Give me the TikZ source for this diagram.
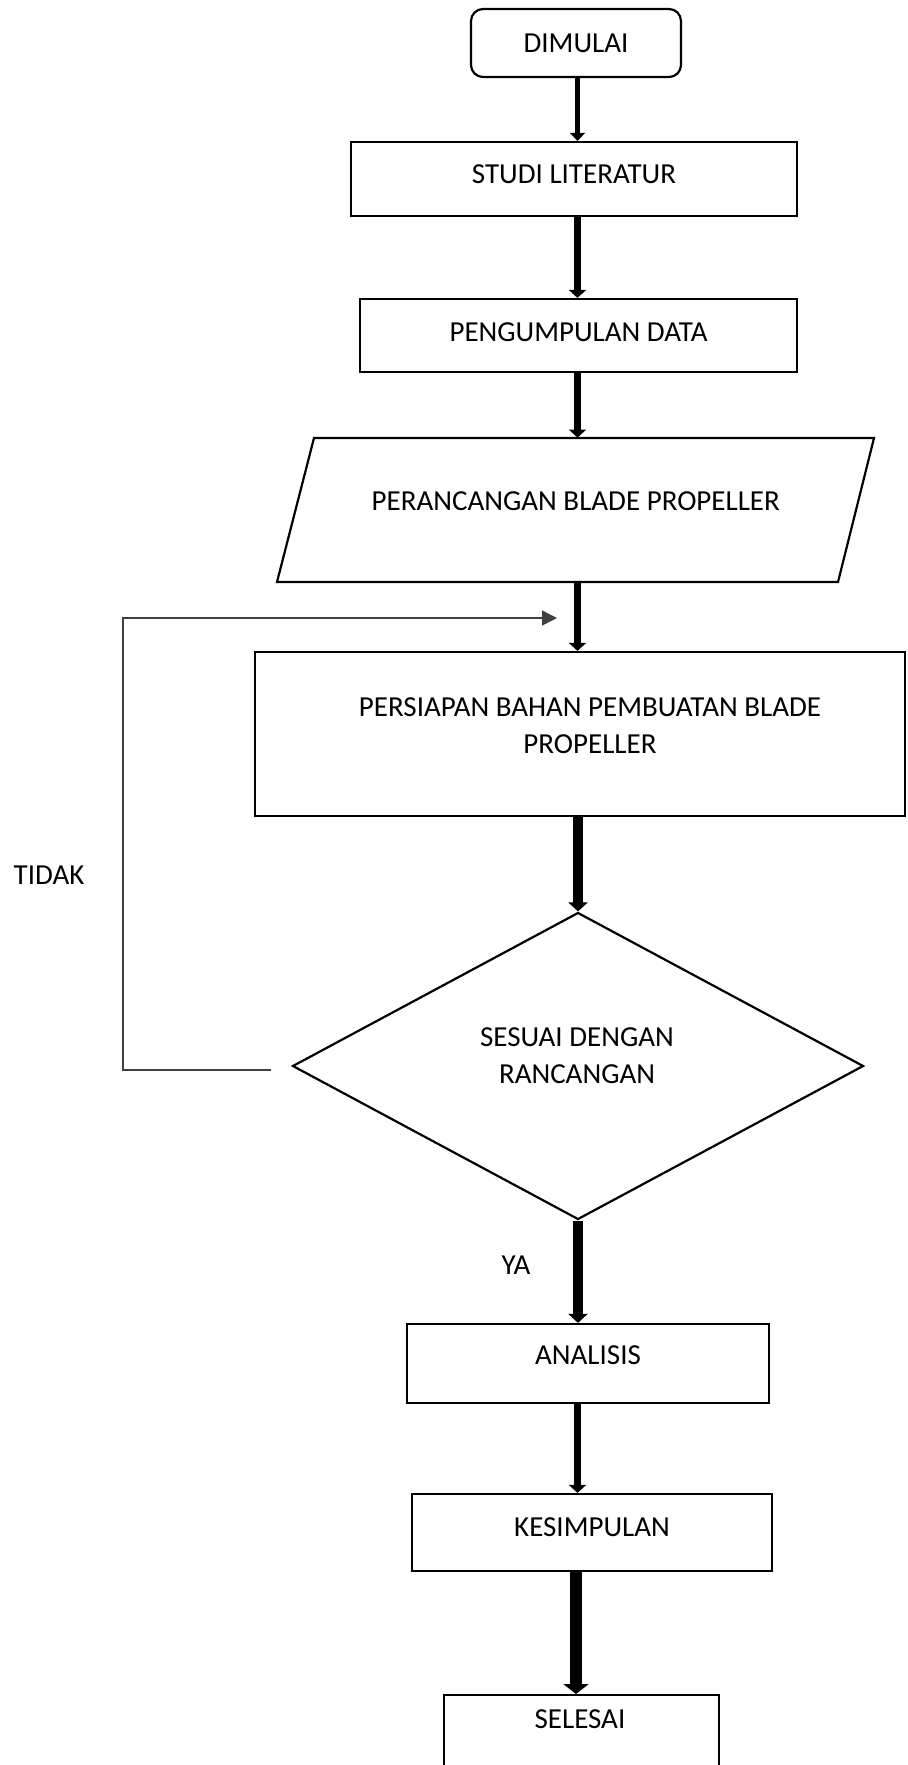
\documentclass[tikz,border=0pt]{standalone}
\usepackage{fontspec}
\setmainfont{Carlito}
\usetikzlibrary{shapes.geometric,arrows.meta}
\begin{document}
\begin{tikzpicture}[x=0.5pt,y=-0.5pt,
  txt/.style={font=\fontsize{14.5pt}{18.5pt}\selectfont,align=center,inner sep=0pt},
  box/.style={txt,draw,line width=1.1pt},
  flowthin/.style={line width=2.5pt,-{Triangle[width=7.5pt,length=4pt]}},
  flow/.style={line width=3.75pt,-{Triangle[width=8.5pt,length=4pt]}},
  flowthick/.style={line width=4.75pt,-{Triangle[width=9.5pt,length=4.5pt]}},
  flowbig/.style={line width=6pt,-{Triangle[width=12.5pt,length=5pt]}},
  fb/.style={line width=0.7pt,draw=black!75,-{Triangle[width=7.5pt,length=7.5pt]}}
]
\useasboundingbox (0,0) rectangle (907,1765);
\clip (0,0) rectangle (907,1765);

\node[box,rounded corners=6pt,minimum width=105pt,minimum height=34pt] (start) at (576,43) {DIMULAI};
\node[box,minimum width=223pt,minimum height=37pt,text depth=4.5pt] (studi) at (574,179) {STUDI LITERATUR};
\node[box,minimum width=218.5pt,minimum height=36.5pt,text depth=3.4pt] (peng) at (578.5,335.5) {PENGUMPULAN DATA};
\node[txt,minimum width=280pt,minimum height=72pt,text depth=9pt] (par) at (575.75,510) {PERANCANGAN BLADE PROPELLER};
\draw[line width=1.1pt,line join=miter] (314,438) -- (874,438) -- (838,582) -- (277,582) -- cycle;
\node[box,minimum width=325pt,minimum height=82pt,text depth=8pt] (pers) at (580,734) {\hspace*{10pt}PERSIAPAN BAHAN PEMBUATAN BLADE\\\hspace*{10pt}PROPELLER};
\node[draw,diamond,line width=1.1pt,minimum width=285.5pt,minimum height=153.5pt,inner sep=0pt] (dia) at (578,1066) {};
\node[txt] (diat) at (577,1055.5) {SESUAI DENGAN\\RANCANGAN};
\node[box,minimum width=181pt,minimum height=39.5pt,text depth=8pt] (ana) at (588,1363.5) {ANALISIS};
\node[box,minimum width=180pt,minimum height=38.5pt,text depth=5.6pt] (kes) at (592,1532.5) {KESIMPULAN};
\node[draw,line width=1.1pt,minimum width=137.5pt,minimum height=60pt,anchor=north,inner sep=0pt] (sel) at (581.5,1694) {};
\node[txt] (selt) at (580,1719) {SELESAI};

\node[txt] (tidak) at (49,875) {TIDAK};
\node[txt] (ya) at (516,1265) {YA};

\coordinate (ax) at (577.5,0);
\draw[flowthin] (start.south -| ax) -- (studi.north -| ax);
\draw[flow] (studi.south -| ax) -- (peng.north -| ax);
\draw[flow] (peng.south -| ax) -- (par.north -| ax);
\draw[flow] (par.south -| ax) -- (pers.north -| ax);
\draw[flowthick] (pers.south -| dia.north) -- (dia.north);
\draw[flowthick] (dia.south) -- (ana.north -| dia.south);
\draw[flow] (ana.south -| ax) -- (kes.north -| ax);
\coordinate (ax2) at (576,0);
\draw[flowbig] (kes.south -| ax2) -- (sel.north -| ax2);

\coordinate (fb0) at (271,1070);
\coordinate (fbc) at (123,618);
\coordinate (fb1) at (557,618);
\draw[fb] (fb0) -| (fbc) -- (fb1);
\end{tikzpicture}
\end{document}
